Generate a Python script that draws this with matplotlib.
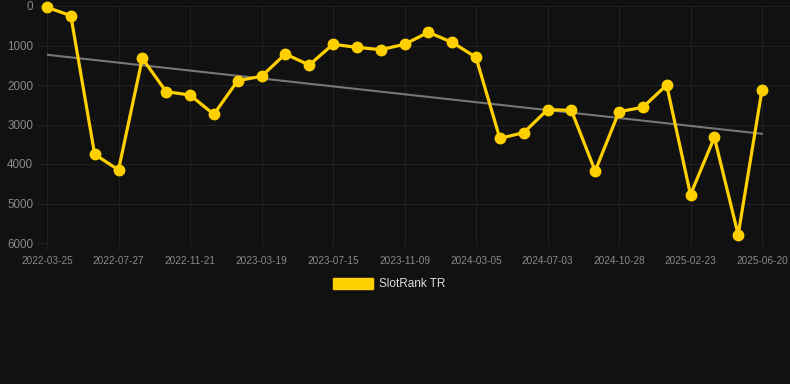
import numpy as np
import matplotlib
matplotlib.use("Agg")
import matplotlib.pyplot as plt
from matplotlib.patches import Patch

# rank values, one per snapshot (category axis, label shown every 3rd point)
ranks = [33, 245, 3755, 4150, 1325, 2170, 2253, 2743, 1890, 1780,
         1215, 1494, 970, 1046, 1106, 970, 666, 920, 1300, 3350,
         3207, 2625, 2641, 4177, 2676, 2565, 2000, 4777, 3324, 5790,
         2119]
tick_labels = ["2022-03-25", "2022-07-27", "2022-11-21", "2023-03-19",
               "2023-07-15", "2023-11-09", "2024-03-05", "2024-07-03",
               "2024-10-28", "2025-02-23", "2025-06-20"]
y_ticks = [0, 1000, 2000, 3000, 4000, 5000, 6000]
series_name = "SlotRank TR"

bg = "#111111"
grid_c = "#202020"
text_c = "#8a8a8a"
yellow = "#FFD000"

plt.rcParams['font.family'] = ['Liberation Sans', 'DejaVu Sans']

fig = plt.figure(figsize=(7.9, 3.84), dpi=100, facecolor=bg)
ax = fig.add_axes([47/790, 1 - 243/384, 1 - 47/790, (243 - 6)/384])
ax.set_facecolor(bg)

x = np.arange(len(ranks))
# linear trend of the series
k, b = np.polyfit(x, ranks, 1)
ax.plot(x, k*x + b, color="#777777", lw=1.5, zorder=2)
ax.plot(x, ranks, color=yellow, lw=2.3, marker="o", ms=7.5,
        zorder=3, clip_on=False)

ax.set_xlim(0, 30*(790 - 47)/(762 - 47))
ax.set_ylim(6000, 0)
ax.set_xticks(x[::3])
ax.set_xticklabels(tick_labels)
ax.set_yticks(y_ticks)
ax.grid(True, color=grid_c, lw=0.8)
for s in ax.spines.values():
    s.set_visible(False)
ax.tick_params(axis="x", colors=grid_c, length=5, width=0.8, labelsize=7.2,
               labelcolor=text_c, pad=4)
ax.tick_params(axis="y", colors=grid_c, length=7, width=0.8, labelsize=8.4,
               labelcolor=text_c, pad=3)

fig.legend(handles=[Patch(facecolor=yellow, edgecolor=yellow)],
           labels=[series_name], loc="center", bbox_to_anchor=(0.493, 0.26),
           frameon=False, fontsize=8.5, labelcolor="#dddddd",
           handlelength=3.4, handleheight=1.0, handletextpad=0.5)

fig.savefig("out.png", dpi=100, facecolor=bg)
